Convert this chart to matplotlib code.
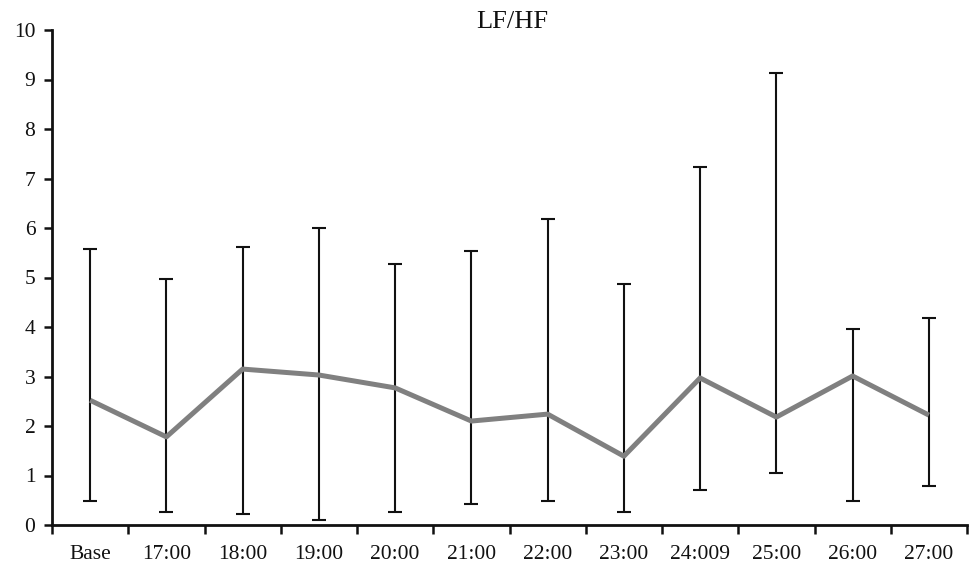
import matplotlib
matplotlib.use("Agg")
import matplotlib.pyplot as plt
import numpy as np

categories = ["Base", "17:00", "18:00", "19:00", "20:00", "21:00", "22:00",
              "23:00", "24:009", "25:00", "26:00", "27:00"]
means = [2.52, 1.78, 3.15, 3.03, 2.77, 2.10, 2.24, 1.39, 2.97, 2.18, 3.01, 2.22]
upper = [5.58, 4.97, 5.62, 6.00, 5.27, 5.54, 6.18, 4.87, 7.23, 9.13, 3.96, 4.18]
lower = [0.48, 0.26, 0.22, 0.10, 0.26, 0.42, 0.48, 0.26, 0.71, 1.05, 0.48, 0.79]
yticks = list(range(0, 11))

plt.rcParams['font.family'] = ['Liberation Serif', 'DejaVu Serif']

fig = plt.figure(figsize=(9.72, 5.64), dpi=100)
ax = fig.add_axes([52/972, 1-525/564, (967-52)/972, (525-30)/564])

x = np.arange(len(categories))
m = np.array(means)
yerr = np.vstack([m - np.array(lower), np.array(upper) - m])

ax.errorbar(x, m, yerr=yerr, fmt='none', ecolor='#111111', elinewidth=1.5,
            capsize=5, capthick=1.5, zorder=2)
ax.plot(x, m, color='#808080', linewidth=3.6, solid_capstyle='butt', zorder=3)

ax.set_xlim(-0.5, len(categories) - 0.5)
ax.set_ylim(0, 10)
ax.set_yticks(yticks)
ax.set_yticklabels([str(v) for v in yticks])
ax.set_xticks(x)
ax.set_xticklabels(categories)
ax.set_xticks(np.arange(-0.5, len(categories), 1.0), minor=True)

ax.tick_params(axis='x', which='major', length=0, pad=14.5, labelsize=15.5, colors='#111111')
ax.tick_params(axis='x', which='minor', length=6.5, width=1.8, direction='out', color='#111111')
ax.tick_params(axis='y', which='major', length=6, width=1.8, direction='out', labelsize=15.5,
               colors='#111111', pad=6)

for s in ['top', 'right']:
    ax.spines[s].set_visible(False)
for s in ['left', 'bottom']:
    ax.spines[s].set_linewidth(2)
    ax.spines[s].set_color('#111111')

fig.text(512/972, 1 - 22/564, "LF/HF", fontsize=19, color='#111111',
         ha='center', va='center')

fig.savefig("out.png", dpi=100)
